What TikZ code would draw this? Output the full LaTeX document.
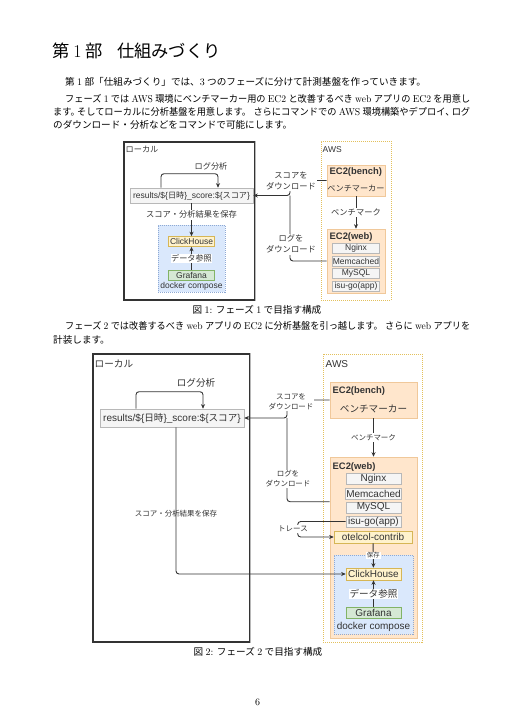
\documentclass[tikz,border=0pt]{standalone}
\usepackage{fontspec}
\usepackage{graphicx}
\setsansfont{Liberation Sans}
\newfontfamily\jpfont[Scale=0.96]{Noto Sans CJK JP}
\usetikzlibrary{positioning,arrows.meta,calc}
\definecolor{ink}{HTML}{333333}
\definecolor{boxgray}{HTML}{F5F5F5}
\definecolor{linegray}{HTML}{B8B8B8}
\definecolor{chfill}{HTML}{FFF2CC}
\definecolor{chline}{HTML}{D6B656}
\definecolor{grfill}{HTML}{D5E8D4}
\definecolor{grline}{HTML}{82B366}
\definecolor{dkfill}{HTML}{DAE8FC}
\definecolor{dkline}{HTML}{8EA9D4}
\definecolor{ecfill}{HTML}{FFE6CC}
\definecolor{ecline}{HTML}{F0C89A}
\definecolor{awsline}{HTML}{E3C05C}
\newcommand{\J}[1]{{\jpfont #1}}
\newcommand{\bodyfont}{\fontsize{10}{13}\selectfont\spaceskip 2.4pt plus 1.5pt minus 0.8pt\relax}
% a full line of a paragraph, set to the width of the text block
\newcommand{\jline}[2]{\resizebox{#1}{\height}{#2}}
\tikzset{
  txt/.style={anchor=base west, inner sep=0pt, font=\bodyfont},
  ttl/.style={anchor=base west, inner sep=0pt, font=\fontsize{18}{20}\selectfont},
  figcap/.style={txt, anchor=base},
  d1/.style={font=\sffamily\fontsize{8.5}{10}\selectfont, text=ink, inner sep=0.5pt},
  d1e/.style={font=\sffamily\fontsize{8.6}{11.5}\selectfont, text=ink, align=center},
  d2/.style={font=\sffamily\fontsize{10}{12}\selectfont, text=ink, inner sep=0.5pt},
  d2e/.style={font=\sffamily\fontsize{7.8}{10}\selectfont, text=ink, align=center},
  ec2t/.style={font=\sffamily\bfseries\fontsize{9.4}{11}\selectfont, text=ink, anchor=west, inner sep=0.5pt},
  plainbox/.style={rectangle, inner sep=0pt, line width=0.6pt},
  graybox/.style={plainbox, draw=linegray, fill=boxgray},
  chbox/.style={plainbox, draw=chline, fill=chfill},
  grbox/.style={plainbox, draw=grline, fill=grfill},
  dockbox/.style={plainbox, draw=dkline, fill=dkfill, dash pattern=on 1pt off 1pt},
  ecbox/.style={plainbox, draw=ecline, fill=ecfill},
  awsbox/.style={plainbox, draw=awsline, fill=white, dash pattern=on 1pt off 1pt},
  localbox/.style={plainbox, draw=ink, line width=1.1pt, fill=white},
  lbl/.style={fill=white, inner sep=1pt},
  conn/.style={draw=ink, line width=0.9pt, -{Stealth[length=4.5pt,width=4pt]}},
  wire/.style={draw=ink, line width=0.9pt},
}
\begin{document}
\begin{tikzpicture}[x=1pt,y=-1pt]
\useasboundingbox (0,0) rectangle (515,728);
% text of the page
\node[ttl] (title) at (52,57) {\J{第}\hspace{4pt}1\hspace{4pt}\J{部}\hspace{14pt}\J{仕組みづくり}};
\node[txt] (par1) at (65,85.3) {\J{第} 1 \J{部「仕組みづくり」では、}3 \J{つのフェーズに分けて計測基盤を作っていきます。}};
\node[txt] (par2a) at (65,102) {\jline{405pt}{\J{フェーズ} 1 \J{では} AWS \J{環境にベンチマーカー用の} EC2 \J{と改善するべき} web \J{アプリの} EC2 \J{を用意し}}};
\node[txt] (par2b) at (53,115.3) {\jline{417pt}{\J{ます。}\kern-3pt\J{そしてローカルに分析基盤を用意します。} \J{さらにコマンドでの} AWS \J{環境構築やデプロイ、}\kern-3pt\J{ログ}}};
\node[txt] (par2c) at (53,128) {\J{のダウンロード・分析などをコマンドで可能にします。}};

% figure 1: local side
\node[localbox, minimum width=131pt, minimum height=158pt] (loc1) at (189.5,221) {};
\draw[linegray, line width=1.1pt] (loc1.north east) -- (loc1.south east);
\node[d1, anchor=west] (loc1t) at (125,149) {\J{ローカル}};
\node[graybox, d1, minimum width=123pt, minimum height=15pt] (res1) at (191.5,195.5) {results/\$\{\J{日時}\}\_score:\$\{\J{スコア}\}};
\node[dockbox, minimum width=67pt, minimum height=67pt] (dock1) at (191.5,258.5) {};
\node[chbox, d1, minimum width=46pt, minimum height=10pt] (ch1) at (191.5,241.5) {ClickHouse};
\node[grbox, d1, minimum width=46pt, minimum height=10pt] (gra1) at (191.5,275) {Grafana};
\node[d1] (dock1t) at (191.5,286.5) {docker compose};
\draw[conn, rounded corners=3pt] ([xshift=-30.5pt]res1.north) -- ++(0,-14) -| ([xshift=26.5pt]res1.north);
\node[d1] (loop1t) at (211,166) {\J{ログ分析}};
\draw[conn] (res1) -- node[lbl, d1e, pos=0.35] {\J{スコア・分析結果を保存}} (ch1);
\draw[conn] (gra1) -- node[lbl, d1] {\J{データ参照}} (ch1);

% figure 1: aws side
\node[awsbox, minimum width=70pt, minimum height=159pt] (aws1) at (356,220.5) {};
\node[d1, anchor=west] (aws1t) at (322,150) {AWS};
\node[ecbox, minimum width=58pt, minimum height=31pt] (bench1) at (356,180.5) {};
\node[ec2t] (bench1t) at (329,172.3) {EC2(bench)};
\node[d1] (bench1s) at (356,188.5) {\J{ベンチマーカー}};
\node[ecbox, minimum width=58pt, minimum height=64pt] (web1) at (356,261) {};
\node[ec2t] (web1t) at (329,237.3) {EC2(web)};
\node[graybox, d1, minimum width=47pt, minimum height=10pt] (ngx1) at (356,248.5) {Nginx};
\node[graybox, d1, minimum width=47pt, minimum height=10pt] (mem1) at (356,261) {Memcached};
\node[graybox, d1, minimum width=47pt, minimum height=10pt] (sql1) at (356,273.5) {MySQL};
\node[graybox, d1, minimum width=47pt, minimum height=10pt] (isu1) at (356,286) {isu-go(app)};
\draw[conn] (bench1) -- node[lbl, d1e] {\J{ベンチマーク}} (web1);
% downloads
\coordinate (jn1) at (290,195.5);
\draw[conn, rounded corners=3pt] (bench1.west) -| (jn1) -- (res1.east);
\draw[wire, rounded corners=3pt] (web1.west) -| (jn1);
\node[lbl, d1e] (dl1) at (291,181) {\J{スコアを}\\\J{ダウンロード}};
\node[lbl, d1e] (ll1) at (291,244) {\J{ログを}\\\J{ダウンロード}};
\node[figcap] (cap1) at (257,313.6) {\J{図} 1: \J{フェーズ} 1 \J{で目指す構成}};

\node[txt] (par3a) at (65,329.6) {\jline{405pt}{\J{フェーズ} 2 \J{では改善するべき} web \J{アプリの} EC2 \J{に分析基盤を引っ越します。} \J{さらに} web \J{アプリを}}};
\node[txt] (par3b) at (53,343.1) {\J{計装します。}};

% figure 2: local side
\node[localbox, minimum width=157pt, minimum height=288pt] (loc2) at (171.5,498) {};
\draw[linegray, line width=1.1pt] (loc2.north east) -- (loc2.south east);
\node[d2, anchor=west] (loc2t) at (94,364) {\J{ローカル}};
\node[graybox, d2, minimum width=144pt, minimum height=18pt] (res2) at (172,418) {results/\$\{\J{日時}\}\_score:\$\{\J{スコア}\}};
\draw[conn, rounded corners=3pt] ([xshift=-36pt]res2.north) -- ++(0,-17) -| ([xshift=31pt]res2.north);
\node[d2] (loop2t) at (196,383) {\J{ログ分析}};

% figure 2: aws side
\node[awsbox, minimum width=99pt, minimum height=288pt] (aws2) at (372.5,498) {};
\node[d2, anchor=west] (aws2t) at (325,364) {AWS};
\node[ecbox, minimum width=87pt, minimum height=36pt] (bench2) at (373.5,400) {};
\node[ec2t] (bench2t) at (332,391) {EC2(bench)};
\node[d2] (bench2s) at (373.5,409) {\J{ベンチマーカー}};
\node[ecbox, minimum width=87pt, minimum height=181pt] (web2) at (373.5,547.5) {};
\node[ec2t] (web2t) at (332,467) {EC2(web)};
\node[graybox, d2, minimum width=55pt, minimum height=11pt] (ngx2) at (373.5,478.5) {Nginx};
\node[graybox, d2, minimum width=55pt, minimum height=11pt] (mem2) at (373.5,493.5) {Memcached};
\node[graybox, d2, minimum width=55pt, minimum height=11pt] (sql2) at (373.5,507.5) {MySQL};
\node[graybox, d2, minimum width=55pt, minimum height=11pt] (isu2) at (373.5,521.5) {isu-go(app)};
\node[chbox, d2, minimum width=78pt, minimum height=12pt] (otel2) at (373,537) {otelcol-contrib};
\node[dockbox, minimum width=79pt, minimum height=79pt] (dock2) at (373.5,594.5) {};
\node[chbox, d2, minimum width=55pt, minimum height=12pt] (ch2) at (373.5,574) {ClickHouse};
\node[grbox, d2, minimum width=55pt, minimum height=11pt] (gra2) at (373.5,612.5) {Grafana};
\node[d2] (dock2t) at (373.5,626.5) {docker compose};
\draw[conn] (bench2) -- node[lbl, d2e] {\J{ベンチマーク}} (web2);
\draw[conn] (otel2) -- node[lbl, d2e, font=\sffamily\fontsize{6.6}{8}\selectfont] {\J{保存}} (ch2);
\draw[conn] (gra2) -- node[lbl, d2] {\J{データ参照}} (ch2);
% save and trace
\draw[conn, rounded corners=3pt] ([xshift=4pt]res2.south) |- (ch2.west);
\node[d2e] (save2t) at (176,514) {\J{スコア・分析結果を保存}};
\draw[conn, rounded corners=3pt] (isu2.west) -- ++(-48,0) |- (otel2.west);
\node[lbl, d2e] (tr2) at (293,529) {\J{トレース}};
% downloads
\coordinate (jn2) at (287,418);
\draw[conn, rounded corners=3pt] (bench2.west) -| (jn2) -- (res2.east);
\draw[wire, rounded corners=3pt] (web2.west |- sql2.north) -| (jn2);
\node[lbl, d2e] (dl2) at (291,402) {\J{スコアを}\\\J{ダウンロード}};
\node[lbl, d2e] (ll2) at (288,479) {\J{ログを}\\\J{ダウンロード}};
\node[figcap] (cap2) at (258,655.3) {\J{図} 2: \J{フェーズ} 2 \J{で目指す構成}};

\node[figcap] (pg) at (257.5,705.3) {6};
\end{tikzpicture}
\end{document}
